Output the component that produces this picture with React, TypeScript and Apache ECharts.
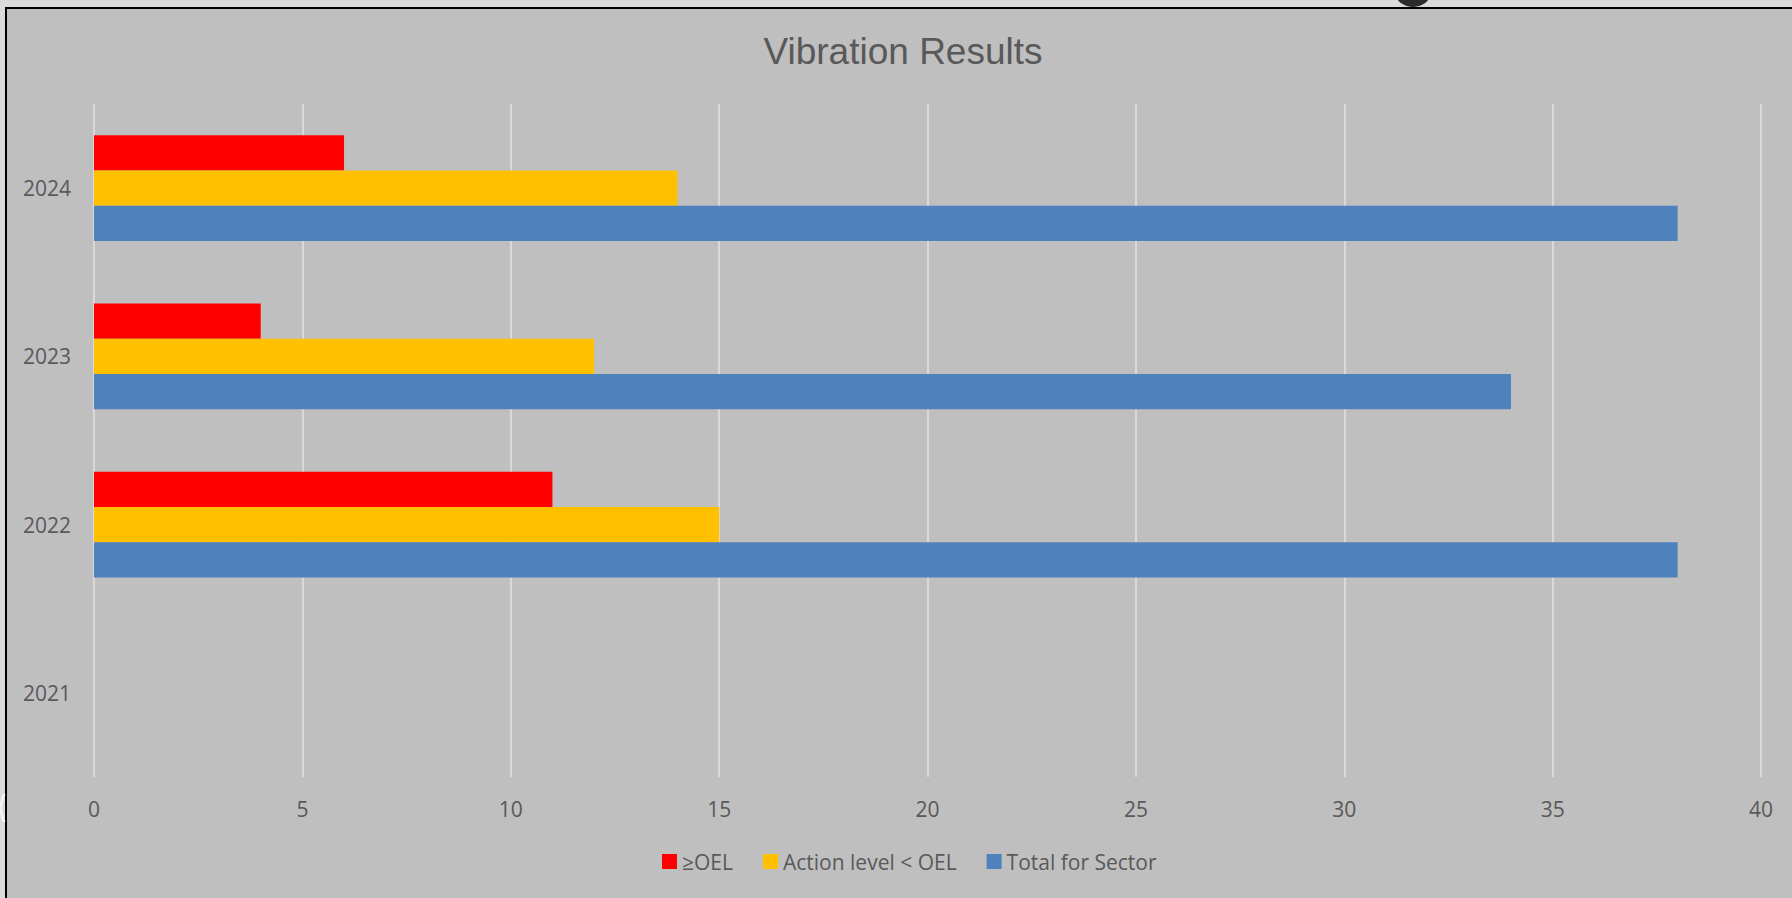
import React, { useEffect, useRef } from "react";
import * as echarts from "echarts";

const categories = ["2021", "2022", "2023", "2024"];
const overOEL = [0, 11, 4, 6];
const actionLevel = [0, 15, 12, 14];
const totalSector = [0, 38, 34, 38];
const seriesNames = ["≥OEL", "Action level < OEL", "Total for Sector"];
const xTicks = { min: 0, max: 40, interval: 5 };

export default function App() {
  const ref = useRef<HTMLDivElement>(null);
  useEffect(() => {
    if (!ref.current) return;
    const chart = echarts.init(ref.current, undefined, { renderer: "svg" });
    const textColor = "#595959";
    const font = "'Open Sans', sans-serif";
    const colors = ["#FF0000", "#FFC000", "#4F81BD"];
    const datasets = [overOEL, actionLevel, totalSector];
    chart.setOption({
      animation: false,
      backgroundColor: "#dadada",
      graphic: [
        {
          type: "rect",
          z: -10,
          shape: { x: 6, y: 8, width: 1850, height: 950 },
          style: { fill: "#bfbfbf", stroke: "#000000", lineWidth: 2 },
        },
        {
          type: "circle",
          z: 10,
          shape: { cx: 1413, cy: -13, r: 20 },
          style: { fill: "#2b2b2b" },
        },
        {
          type: "polyline",
          z: 10,
          shape: { points: [[4, 794], [0, 808], [4, 822]] },
          style: { stroke: "#f2f2f2", lineWidth: 3, fill: "none" },
        },
      ],
      title: {
        text: "Vibration Results",
        left: 903,
        top: 33,
        padding: 0,
        textAlign: "center",
        textStyle: {
          color: textColor,
          fontFamily: "'Liberation Sans', Arial, sans-serif",
          fontSize: 37,
          fontWeight: "normal",
        },
      },
      legend: {
        left: 662,
        top: 851,
        padding: 0,
        itemWidth: 15,
        itemHeight: 15,
        itemGap: 30,
        icon: "rect",
        data: seriesNames,
        textStyle: { color: textColor, fontFamily: font, fontSize: 21 },
      },
      grid: {
        left: 94,
        right: 31,
        top: 104,
        bottom: 121,
        containLabel: false,
        outerBoundsMode: "none",
      },
      xAxis: {
        type: "value",
        min: xTicks.min,
        max: xTicks.max,
        interval: xTicks.interval,
        axisLine: { show: false },
        axisTick: { show: false },
        axisLabel: {
          color: textColor,
          fontFamily: font,
          fontSize: 21,
          margin: 21,
        },
        splitLine: { show: true, lineStyle: { color: "#d9d9d9", width: 2 } },
      },
      yAxis: {
        type: "category",
        data: categories,
        axisLine: { show: false },
        axisTick: { show: false },
        axisLabel: {
          color: textColor,
          fontFamily: font,
          fontSize: 21,
          margin: 23,
        },
        splitLine: { show: false },
      },
      series: seriesNames.map((name, i) => ({
        name,
        type: "bar",
        data: datasets[i],
        itemStyle: { color: colors[i] },
        barGap: "0%",
        barCategoryGap: "37%",
      })),
    });
    return () => chart.dispose();
  }, []);
  return (
    <div
      ref={ref}
      style={{ position: "fixed", left: 0, top: 0, width: 1792, height: 898 }}
    />
  );
}
